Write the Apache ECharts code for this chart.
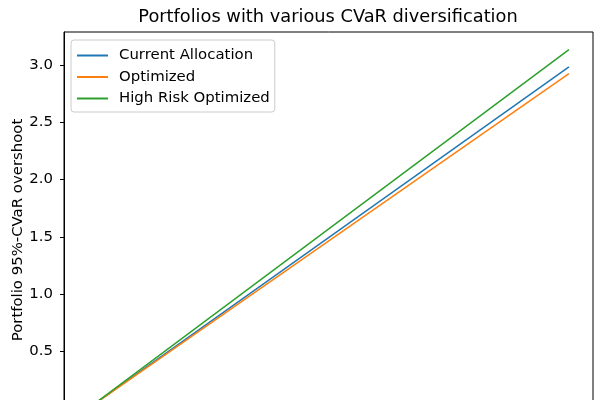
<!DOCTYPE html>
<html>
<head>
<meta charset="utf-8">
<script src="https://cdn.jsdelivr.net/npm/echarts@6/dist/echarts.min.js"></script>
<style>
html, body { margin: 0; padding: 0; background: #fff; }
#chart { width: 600px; height: 400px; }
</style>
</head>
<body>
<div id="chart"></div>
<script>
// 数据
var xValues = [0, 1];
var seriesNames = ['Current Allocation', 'Optimized', 'High Risk Optimized'];
var currentAlloc = [0, 2.983];
var optimized = [0, 2.925];
var highRisk = [0, 3.134];
var yTicks = [0, 0.5, 1.0, 1.5, 2.0, 2.5, 3.0];

var colors = ['#1f77b4', '#ff7f0e', '#2ca02c'];

function pairs(ys) {
	return xValues.map(function(x, i) { return [x, ys[i]]; });
}

var chart = echarts.init(document.getElementById('chart'));

var option = {
	animation: false,
	title: {
		text: 'Portfolios with various CVaR diversification',
		left: 328,
		textAlign: 'center',
		top: 8,
		padding: 0,
		textStyle: {
			fontFamily: 'DejaVu Sans',
			fontSize: 17.8,
			fontWeight: 'normal',
			color: '#000'
		}
	},
	legend: {
		orient: 'vertical',
		left: 71,
		top: 40,
		data: seriesNames,
		icon: 'rect',
		itemWidth: 31,
		itemHeight: 2,
		itemGap: 6.5,
		padding: [8, 5, 6, 6],
		backgroundColor: 'rgba(255,255,255,0.8)',
		borderColor: '#cccccc',
		borderWidth: 1,
		borderRadius: 3,
		textStyle: {
			fontFamily: 'DejaVu Sans',
			fontSize: 14.9,
			color: '#000',
			padding: [0, 0, 0, 6]
		}
	},
	grid: {
		left: 64,
		top: 32,
		width: 529,
		height: 396,
		outerBoundsMode: 'none',
		containLabel: false,
		show: true,
		borderColor: '#000',
		borderWidth: 1,
		backgroundColor: 'transparent'
	},
	xAxis: {
		type: 'value',
		min: -0.05,
		max: 1.05,
		axisLine: { show: false },
		axisTick: { show: false },
		axisLabel: { show: false },
		splitLine: { show: false }
	},
	yAxis: {
		type: 'value',
		min: -0.170,
		max: 3.288,
		name: 'Portfolio 95%-CVaR overshoot',
		nameLocation: 'middle',
		nameGap: 38,
		nameMoveOverlap: false,
		nameTextStyle: {
			fontFamily: 'DejaVu Sans',
			fontSize: 14.9,
			color: '#000'
		},
		axisLine: { show: true, onZero: false, lineStyle: { color: '#000', width: 1 } },
		axisTick: {
			show: true,
			length: 4,
			customValues: yTicks,
			lineStyle: { color: '#000', width: 1 }
		},
		axisLabel: {
			customValues: yTicks,
			margin: 11,
			fontFamily: 'DejaVu Sans',
			fontSize: 14.9,
			color: '#000',
			formatter: function(v) { return v.toFixed(1); }
		},
		splitLine: { show: false }
	},
	series: [{
		name: seriesNames[0],
		type: 'line',
		data: pairs(currentAlloc),
		showSymbol: false,
		color: colors[0],
		lineStyle: { width: 1.5 }
	}, {
		name: seriesNames[1],
		type: 'line',
		data: pairs(optimized),
		showSymbol: false,
		color: colors[1],
		lineStyle: { width: 1.5 }
	}, {
		name: seriesNames[2],
		type: 'line',
		data: pairs(highRisk),
		showSymbol: false,
		color: colors[2],
		lineStyle: { width: 1.5 }
	}]
};

chart.setOption(option);
</script>
</body>
</html>
